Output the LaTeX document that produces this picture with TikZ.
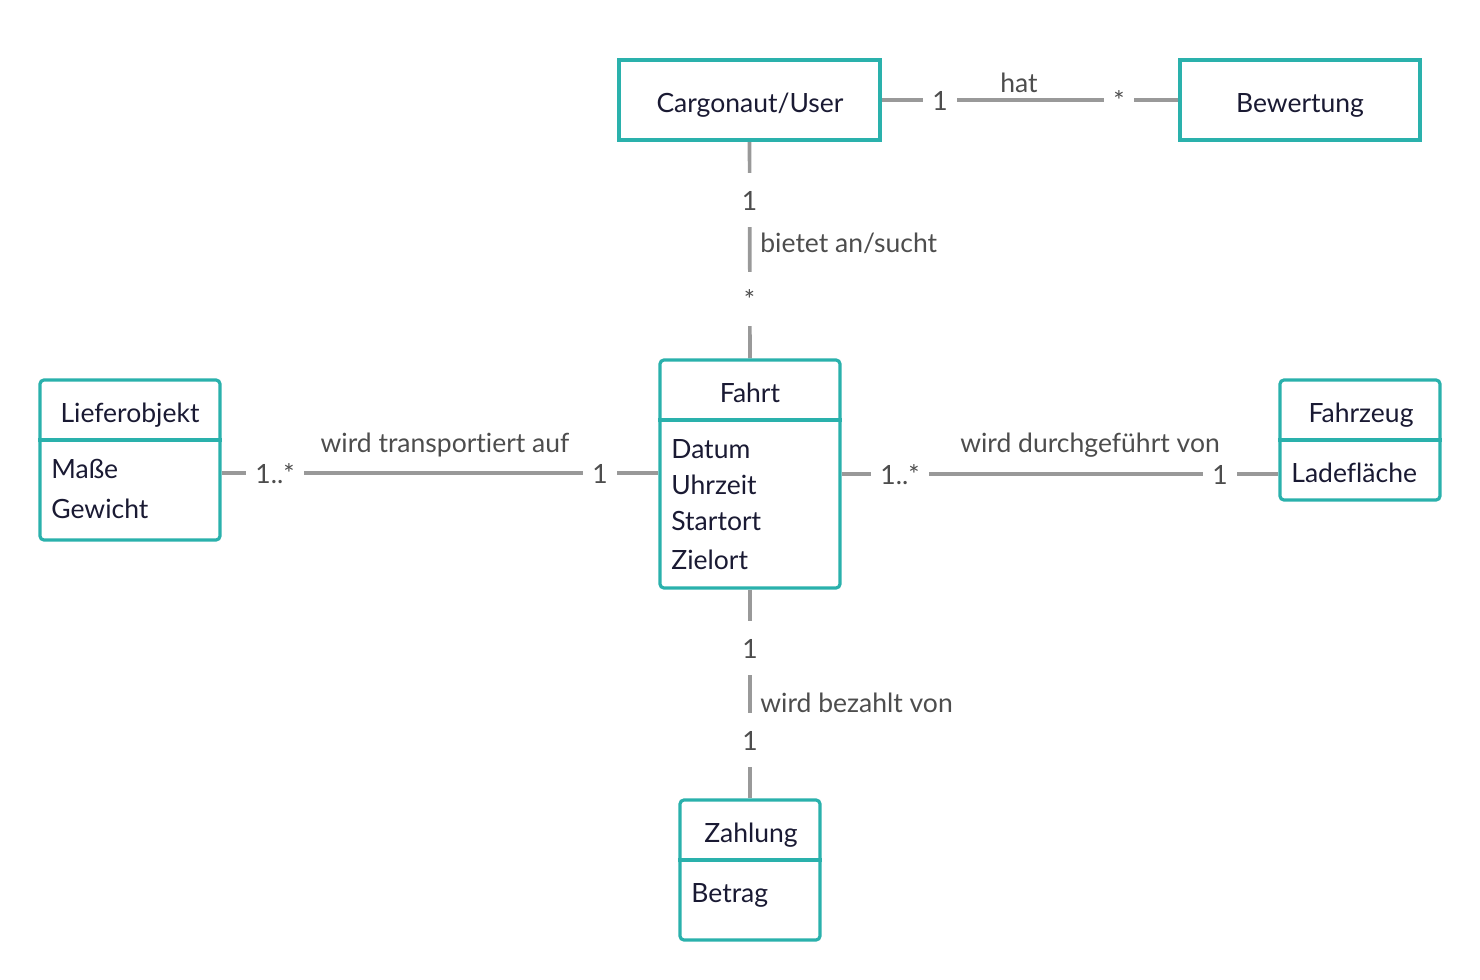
\documentclass[tikz,border=0pt]{standalone}
\usepackage{fontspec}
\setmainfont{Lato}[Ligatures={NoCommon}]
\usetikzlibrary{backgrounds}
\definecolor{tealb}{HTML}{2AB1AC}
\definecolor{conngray}{HTML}{999999}
\definecolor{labgray}{HTML}{4D4D4D}
\definecolor{txtc}{HTML}{1A1A33}
\newcommand{\fs}{\fontsize{13.25}{16}\selectfont}
\begin{document}
\begin{tikzpicture}[x=0.5pt,y=-0.5pt,
  cls/.style={draw=tealb,line width=1.6pt,rounded corners=2pt,inner sep=0pt,fill=white},
  plainbox/.style={draw=tealb,line width=1.6pt,inner sep=0pt,fill=white},
  divider/.style={draw=tealb,line width=1.6pt},
  conn/.style={draw=conngray,line width=1.8pt},
  mult/.style={fill=white,text=labgray,font=\fs,inner xsep=4.5pt,inner ysep=8.5pt,text height=10pt,text depth=0pt},
  lab/.style={text=labgray,font=\fs,inner sep=0pt,anchor=base},
  labw/.style={text=labgray,font=\fs,inner sep=0pt,anchor=base west},
  ttl/.style={text=txtc,font=\fs,inner sep=0pt,anchor=base},
  attr/.style={text=txtc,font=\fs,inner sep=0pt,anchor=base west}]
\useasboundingbox (0,0) rectangle (1480,980);

% boxes
\node[plainbox,minimum width=130.5pt,minimum height=40pt] (user) at (749.5,100) {};
\node[plainbox,minimum width=120pt,minimum height=40pt] (bew) at (1300,100) {};
\node[cls,minimum width=90pt,minimum height=114pt] (fahrt) at (750,474) {};
\node[cls,minimum width=90pt,minimum height=80pt] (lief) at (130,460) {};
\node[cls,minimum width=80pt,minimum height=60pt] (fz) at (1360,440) {};
\node[cls,minimum width=70pt,minimum height=70pt] (zahl) at (750,870) {};

% dividers
\draw[divider] (fahrt.west |- 0,420) -- (fahrt.east |- 0,420);
\draw[divider] (lief.west |- 0,440) -- (lief.east |- 0,440);
\draw[divider] (fz.west |- 0,440) -- (fz.east |- 0,440);
\draw[divider] (zahl.west |- 0,860) -- (zahl.east |- 0,860);

% box texts
\node[ttl] (tuser) at (750,112) {Cargonaut/User};
\node[ttl] (tbew) at (1300,112) {Bewertung};
\node[ttl] (tfahrt) at (750,402) {Fahrt};
\node[attr] (a1) at (671,458) {Datum};
\node[attr] (a2) at (671,494) {Uhrzeit};
\node[attr] (a3) at (671,530) {Startort};
\node[attr] (a4) at (671,569) {Zielort};
\node[ttl] (tlief) at (130,422) {Lieferobjekt};
\node[attr] (l1) at (51,478) {Maße};
\node[attr] (l2) at (51,518) {Gewicht};
\node[ttl] (tfz) at (1361,422) {Fahrzeug};
\node[attr] (f1) at (1291,482) {Ladefläche};
\node[ttl] (tzahl) at (751,842) {Zahlung};
\node[attr] (z1) at (691,902) {Betrag};

% connectors
\begin{scope}[on background layer]
\draw[conn] (user.east) -- (bew.west);
\draw[conn] (user.south) -- (fahrt.north);
\draw[conn] (lief.east |- 0,473) -- (fahrt.west |- 0,473);
\draw[conn] (fahrt.east |- 0,474) -- (fz.west |- 0,474);
\draw[conn] (fahrt.south) -- (zahl.north);
\end{scope}

% multiplicities
\node[mult] (m1) at (940,100) {1};
\node[mult] (m2) at (1119,100) {*};
\node[mult] (m3) at (749.5,200) {1};
\node[mult] (m4) at (749.5,299) {*};
\node[mult] (m5) at (275,473) {1..*};
\node[mult] (m6) at (600,473) {1};
\node[mult] (m7) at (900,474) {1..*};
\node[mult] (m8) at (1220,474) {1};
\node[mult] (m9) at (750,648) {1};
\node[mult] (m10) at (750,740) {1};

% association labels
\node[lab] (hat) at (1019,92) {hat};
\node[labw] (bietet) at (760,252) {bietet an/sucht};
\node[lab] (trans) at (445,452) {wird transportiert auf};
\node[lab] (durch) at (1090,452) {wird durchgeführt von};
\node[labw] (bez) at (760,712) {wird bezahlt von};
\end{tikzpicture}
\end{document}
